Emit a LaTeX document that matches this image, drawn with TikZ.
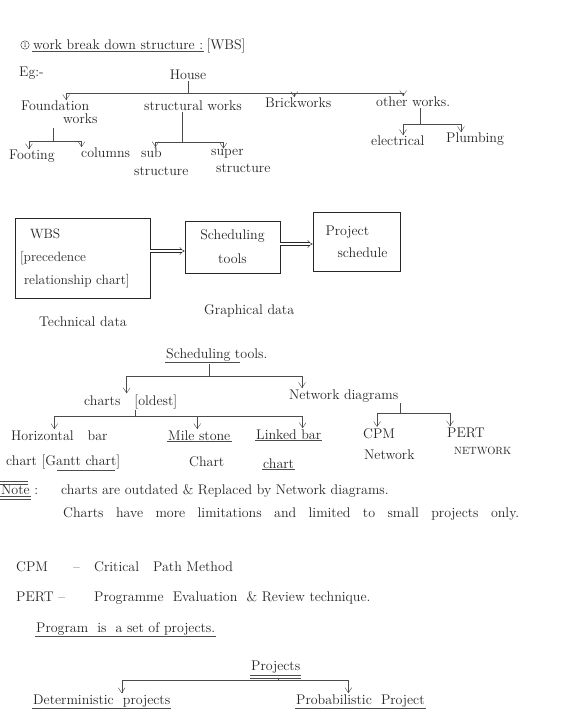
\documentclass[tikz,border=0pt]{standalone}
\usepackage{fontspec}
\usepackage{tikz}
\usetikzlibrary{positioning,arrows.meta,calc}
\definecolor{ink}{RGB}{38,38,42}
\definecolor{pencil}{RGB}{75,75,80}
\newcommand{\hand}{\fontsize{14}{16}\selectfont}
\tikzset{
  lbl/.style   = {anchor=base west, inner sep=1pt, font=\hand, text=ink},
  mid/.style   = {anchor=base, inner sep=1pt, font=\hand, text=ink},
  box/.style   = {draw=ink, semithick, inner sep=4pt, font=\hand, text=ink},
  stem/.style  = {draw=pencil, thin},
  flow/.style  = {-{Straight Barb[length=1.8mm,width=2.4mm]}, draw=pencil, thin},
  dflow/.style = {double=white, double distance=2.4pt, draw=ink, thin, -{Implies[length=2.4mm]}},
  uline/.style = {draw=pencil, thin},
}

\begin{document}
\begin{tikzpicture}[x=1pt, y=-1pt]
  \fill[white] (0,0) rectangle (560,727);
  \useasboundingbox (0,0) rectangle (560,727);

  % heading
  \node[circle, draw=ink, thin, inner sep=0.8pt, font=\scriptsize, text=ink] (num) at (25,45) {1};
  \node[lbl] (title) at (32,50) {work break down structure :};
  \node[lbl, right=1pt of title.base east, anchor=base west] (titlewbs) {[WBS]};
  \draw[uline] (title.south west) -- (title.south east);
  \node[lbl] (eg) at (18,77) {Eg:-};

  % WBS tree
  \node[mid] (house) at (188,80) {House};
  \node[lbl] (found) at (20,111) {Foundation};
  \node[lbl] (foundw) at (62,124) {works};
  \node[lbl] (struct) at (143,111) {structural works};
  \node[lbl] (brick) at (264,108) {Brickworks};
  \node[lbl] (other) at (375,107) {other works.};
  \coordinate (hj) at (house.south |- 0,93);
  \draw[stem] (house.south) -- (hj);
  \draw[flow] (hj) -| ([xshift=11pt]found.north);
  \draw[flow] (hj) -| ([xshift=-4pt]brick.north);
  \draw[flow] (hj) -| ([xshift=-10pt]other.north);

  \node[lbl] (footing) at (8,160) {Footing};
  \node[lbl] (columns) at (80,158) {columns};
  \coordinate (fj) at (53,141);
  \draw[stem] (53,128) -- (fj);
  \draw[flow] (fj) -| ([xshift=-3pt]footing.north);
  \draw[flow] (fj) -| ([xshift=-24pt]columns.north);

  \node[lbl] (sub) at (140,158) {sub};
  \node[lbl] (subs) at (133,176) {structure};
  \node[lbl] (super) at (210,156) {super};
  \node[lbl] (supers) at (215,173) {structure};
  \coordinate (sj) at (182,142);
  \draw[stem] (struct.south -| sj) -- (sj);
  \draw[flow] (sj) -| ([xshift=4pt]sub.north);
  \draw[flow] (sj) -| ([xshift=-4pt]super.north);

  \node[lbl] (elec) at (370,146) {electrical};
  \node[lbl] (plumb) at (445,143) {Plumbing};
  \coordinate (oj) at (420,124);
  \draw[stem] (other.south -| oj) -- (oj);
  \draw[flow] (oj) -| (elec.north -| 403,0);
  \draw[flow] (oj) -| (plumb.north -| 461,0);

  % scheduling flow
  \node[box, minimum width=135pt, minimum height=80pt, text width=125pt, align=left,
        font=\fontsize{13.5}{23}\selectfont] (wbsbox) at (82.5,258)
        {\hspace*{10pt}WBS\\{[}precedence\\\hspace*{4pt}relationship chart]};
  \node[box, minimum width=95pt, minimum height=52pt, align=center,
        font=\fontsize{14}{24}\selectfont] (schedbox) at (232.5,247) {Scheduling\\tools};
  \node[box, minimum width=87pt, minimum height=59pt, align=left,
        font=\fontsize{14}{22}\selectfont] (projbox) at (356.5,241.5) {Project\\\hspace*{12pt}schedule};
  \draw[dflow] (wbsbox.east |- 0,251) -- (schedbox.west |- 0,251);
  \draw[dflow] (schedbox.east |- 0,244) -- (projbox.west |- 0,244);
  \node[lbl] (tech) at (38,326) {Technical data};
  \node[lbl] (graph) at (203,314) {Graphical data};

  % scheduling tools tree
  \node[lbl] (stools) at (165,358) {Scheduling};
  \node[lbl, right=2pt of stools.base east, anchor=base west] (stools2) {tools.};
  \draw[uline] (stools.south west) -- ([xshift=8pt]stools.south east);
  \node[lbl] (charts) at (83,405) {charts\quad [oldest]};
  \node[lbl] (netd) at (288,399) {Network diagrams};
  \coordinate (tj) at (209,376);
  \draw[stem] ([yshift=-2pt]stools.south -| tj) -- (tj);
  \draw[flow] (tj) -| ([xshift=-4pt]charts.north);
  \draw[flow] (tj) -| ([xshift=14pt]netd.north west);

  \node[lbl] (hbar) at (10,440) {Horizontal\quad bar};
  \node[lbl] (hbarc) at (5,465) {chart [Gantt chart]};
  \draw[uline] ([xshift=52pt]hbarc.south west) -- ([xshift=-6pt]hbarc.south east);
  \node[lbl] (mile) at (167,440) {Mile stone};
  \draw[uline] (mile.south west) -- (mile.south east);
  \node[lbl] (milec) at (188,466) {Chart};
  \node[lbl] (linked) at (255,439) {Linked bar};
  \draw[uline] (linked.south west) -- (linked.south east);
  \node[lbl] (linkedc) at (262,468) {chart};
  \draw[uline] (linkedc.south west) -- (linkedc.south east);
  \coordinate (cj) at (135,416);
  \draw[stem] (charts.south -| cj) -- (cj);
  \draw[flow] (cj) -| ([xshift=-5pt]hbar.north);
  \draw[flow] (cj) -| ([xshift=-2pt]mile.north);
  \draw[flow] (cj) -| ([xshift=14pt]linked.north);

  \node[lbl] (cpm) at (362,438) {CPM};
  \node[lbl] (cpmn) at (363,459) {Network};
  \node[lbl] (pert) at (446,437) {PERT};
  \node[lbl, font=\fontsize{10.5}{12}\selectfont] (pertn) at (453,454) {NETWORK};
  \coordinate (nj) at (400,413);
  \draw[stem] (netd.south -| nj) -- (nj);
  \draw[flow] (nj) -| ([xshift=-2pt]cpm.north);
  \draw[flow] (nj) -| ([xshift=4pt]pert.north west);

  % note
  \node[lbl] (note) at (0,494) {Note :};
  \draw[uline] (0,481) -- (28,481) (0,484) -- (28,484);
  \draw[uline] ([yshift=-1pt]note.south west) -- ([yshift=-1pt,xshift=-8pt]note.south east)
               ([yshift=-4pt]note.south west) -- ([yshift=-4pt,xshift=-8pt]note.south east);
  \node[lbl] (note1) at (60,494) {charts are outdated \& Replaced by Network diagrams.};
  \node[lbl] (note2) at (62,517) {\addfontfeatures{LetterSpace=6}\makebox[456pt][s]{Charts have more limitations and limited to small projects only.}};

  % abbreviations
  \node[lbl] (cpmab) at (15,571) {CPM};
  \node[lbl] (cpmdash) at (72,571) {--};
  \node[lbl] (cpmfull) at (93,571) {Critical\quad Path\ Method};
  \node[lbl] (pertab) at (15,601) {PERT\ --};
  \node[lbl] (pertfull) at (93,601) {Programme\ \ Evaluation\ \ \& Review technique.};
  \node[lbl] (prog) at (35,632) {Program\ \ is\ \ a set\ of projects.};
  \draw[uline] (prog.south west) -- (prog.south east);

  % projects tree
  \node[lbl] (projs) at (250,670) {Projects};
  \draw[uline] ([yshift=-1pt]projs.south west) -- ([yshift=-1pt]projs.south east)
               ([yshift=-4pt]projs.south west) -- ([yshift=-4pt]projs.south east);
  \node[lbl] (det) at (32,704) {Deterministic\ \ projects};
  \draw[uline] (det.south west) -- (det.south east);
  \node[lbl] (prob) at (295,704) {Probabilistic\ \ Project};
  \draw[uline] (prob.south west) -- (prob.south east);
  \coordinate (pj) at (278,680);
  \draw[stem] ([yshift=-4pt]projs.south -| pj) -- (pj);
  \draw[flow] (pj) -| ([xshift=20pt]det.north);
  \draw[flow] (pj) -| ([xshift=-12pt]prob.north);
\end{tikzpicture}
\end{document}
